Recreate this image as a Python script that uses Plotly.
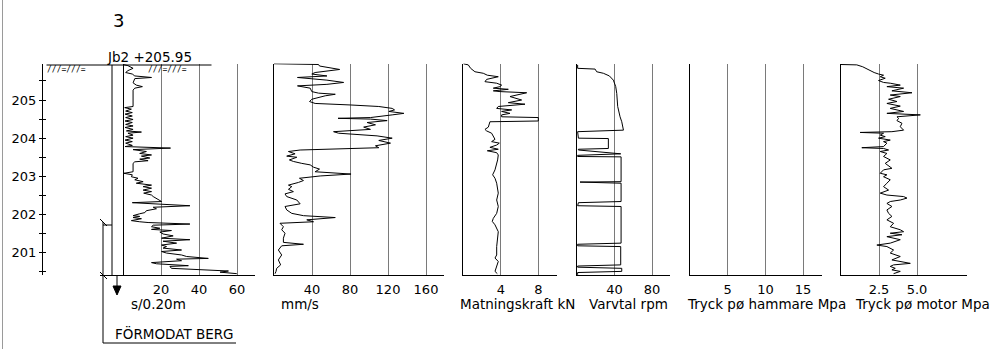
import plotly.graph_objects as go

# ---------------- data ----------------
# Panel 1: sounding resistance, s/0.20m
s02_elev = [205.93, 205.90, 205.83, 205.77, 205.72, 205.68, 205.63, 205.59, 205.56, 205.45,
            205.39, 205.35, 205.31, 205.26, 204.83, 204.80, 204.76, 204.71, 204.67, 204.63,
            204.58, 204.54, 204.49, 204.45, 204.41, 204.36, 204.32, 204.28, 204.23, 204.19,
            204.16, 204.13, 204.08, 204.04, 204.00, 203.95, 203.91, 203.87, 203.81, 203.78,
            203.74, 203.70, 203.65, 203.60, 203.56, 203.53, 203.48, 203.45, 203.41, 203.38,
            203.34, 203.12, 203.08, 203.04, 202.99, 202.95, 202.91, 202.86, 202.82, 202.77,
            202.73, 202.69, 202.64, 202.60, 202.56, 202.51, 202.47, 202.42, 202.38, 202.34,
            202.31, 202.28, 202.23, 202.19, 202.15, 202.10, 202.05, 202.02, 201.97, 201.95,
            201.92, 201.89, 201.84, 201.81, 201.79, 201.75, 201.72, 201.68, 201.64, 201.61,
            201.58, 201.54, 201.49, 201.44, 201.38, 201.34, 201.30, 201.25, 201.20, 201.16,
            201.12, 201.07, 201.03, 200.99, 200.94, 200.90, 200.85, 200.83, 200.79, 200.74,
            200.71, 200.66, 200.64, 200.59, 200.57, 200.55, 200.54, 200.52, 200.49, 200.46, 200.45]
s02_val = [0.0, 2.6, 5.3, 2.6, 1.4, 4.9, 6.2, 15.0, 6.2, 5.3,
           7.0, 10.2, 6.2, 5.3, 5.3, 0.9, 4.4, 1.4, 4.9, 1.1,
           4.9, 1.4, 5.3, 1.1, 4.9, 1.4, 5.3, 1.1, 5.3, 1.8,
           9.7, 2.6, 5.3, 1.4, 5.3, 1.1, 4.9, 1.4, 4.9, 1.1,
           25.0, 5.3, 12.3, 8.8, 15.0, 9.7, 14.1, 8.8, 13.2, 6.2,
           5.3, 5.3, 0.5, 4.9, 4.4, 7.9, 6.2, 10.6, 7.0, 15.0,
           10.6, 15.0, 10.6, 15.0, 10.9, 15.0, 15.9, 17.6, 19.4, 20.3,
           4.9, 19.4, 35.2, 15.9, 17.6, 12.3, 11.5, 8.8, 5.3, 8.8,
           5.3, 9.7, 4.4, 8.8, 13.2, 35.2, 15.9, 15.0, 19.4, 15.0,
           25.5, 19.4, 21.1, 26.4, 20.3, 35.2, 21.1, 28.2, 20.3, 22.9,
           21.1, 30.8, 20.3, 22.9, 30.8, 33.5, 44.9, 28.2, 30.8, 15.0,
           17.6, 34.4, 24.7, 25.5, 32.6, 40.5, 49.3, 55.5, 51.1, 58.1, 59.9]

# Panel 2: penetration rate, mm/s
rate_elev = [205.95, 205.93, 205.89, 205.80, 205.72, 205.68, 205.63, 205.59, 205.52, 205.46,
             205.41, 205.37, 205.31, 205.22, 205.18, 205.15, 205.11, 205.02, 204.96, 204.91,
             204.87, 204.83, 204.78, 204.74, 204.70, 204.65, 204.61, 204.54, 204.52, 204.50,
             204.46, 204.41, 204.35, 204.29, 204.23, 204.17, 204.13, 204.06, 204.00, 203.94,
             203.87, 203.80, 203.75, 203.73, 203.69, 203.65, 203.59, 203.53, 203.50, 203.43,
             203.39, 203.34, 203.30, 203.24, 203.19, 203.12, 203.06, 203.01, 202.95, 202.89,
             202.84, 202.77, 202.73, 202.66, 202.60, 202.54, 202.47, 202.38, 202.28, 202.21,
             202.12, 202.03, 201.97, 201.92, 201.86, 201.81, 201.77, 201.68, 201.60, 201.51,
             201.38, 201.27, 201.22, 201.18, 201.07, 200.94, 200.81, 200.68, 200.59, 200.51, 200.45]
rate_val = [0.0, 46.9, 47.9, 69.1, 43.3, 39.8, 55.7, 24.7, 55.7, 73.3,
            55.7, 24.7, 38.1, 39.8, 46.9, 64.5, 53.9, 39.8, 37.4, 43.3,
            80.3, 110.3, 124.4, 126.9, 120.9, 136.7, 124.4, 101.5, 67.4, 101.5,
            119.1, 98.0, 106.8, 94.4, 101.5, 62.7, 68.0, 108.5, 124.4, 110.3,
            122.6, 106.8, 110.3, 69.8, 27.5, 15.2, 22.2, 13.4, 24.0, 16.2,
            20.4, 29.2, 38.1, 41.6, 47.9, 43.3, 81.1, 48.6, 26.8, 31.0,
            25.7, 15.2, 18.7, 15.2, 20.4, 11.6, 13.4, 24.0, 27.5, 11.6,
            13.4, 18.7, 31.0, 64.5, 34.5, 41.6, 6.3, 9.9, 8.1, 11.6,
            9.9, 9.9, 31.0, 8.1, 4.6, 8.1, 4.6, 7.0, 2.8, 2.1, 1.1]

# Panel 3: feed force (Matningskraft), kN
feed_elev = [205.95, 205.92, 205.83, 205.74, 205.70, 205.65, 205.61, 205.54, 205.48, 205.44,
             205.39, 205.35, 205.31, 205.28, 205.24, 205.22, 205.19, 205.09, 205.00, 204.93,
             204.89, 204.83, 204.78, 204.74, 204.70, 204.65, 204.61, 204.56, 204.54, 204.45,
             204.43, 204.35, 204.29, 204.23, 204.19, 204.13, 204.04, 203.97, 203.91, 203.87,
             203.82, 203.76, 203.71, 203.67, 203.62, 203.56, 203.43, 203.17, 203.04, 202.95,
             202.82, 202.56, 202.38, 202.21, 202.03, 201.90, 201.82, 201.73, 201.55, 201.38,
             201.16, 200.94, 200.86, 200.77, 200.64, 200.51, 200.45]
feed_val = [0.0, 0.53, 0.78, 1.24, 2.13, 2.56, 3.73, 2.49, 2.31, 3.56,
            4.09, 3.91, 3.20, 4.80, 3.20, 3.91, 6.76, 4.98, 6.22, 4.80,
            6.58, 3.73, 3.56, 5.16, 4.09, 4.98, 4.09, 4.09, 8.0, 8.0,
            2.84, 2.77, 2.67, 2.31, 2.49, 3.02, 3.20, 3.38, 3.02, 3.84,
            3.56, 2.84, 3.73, 2.56, 3.56, 3.73, 3.66, 3.38, 3.13, 3.38,
            3.56, 3.73, 3.56, 3.73, 3.56, 3.20, 3.09, 3.38, 3.73, 3.63,
            3.56, 3.56, 3.38, 3.73, 3.56, 3.38, 3.63]

# Panel 4: rotation (Varvtal), rpm
rpm_elev = [205.92, 205.83, 205.81, 205.74, 205.70, 205.63, 205.52, 205.35, 205.17, 204.83,
            204.56, 204.43, 204.21, 204.17, 204.00, 203.99, 203.73, 203.71, 203.69, 203.59,
            203.55, 203.52, 203.51, 202.86, 202.85, 202.82, 202.34, 202.31, 202.23, 202.21,
            201.25, 201.22, 201.18, 201.16, 200.68, 200.65, 200.62, 200.59, 200.51, 200.48, 200.42]
rpm_val = [1.0, 1.0, 19.5, 21.2, 28.3, 34.7, 38.9, 41.4, 42.5, 43.5,
           46.0, 47.8, 49.6, 1.0, 1.8, 33.6, 33.6, 1.8, 1.8, 46.7,
           1.0, 1.0, 47.1, 47.1, 3.5, 47.1, 47.1, 1.8, 1.0, 47.1,
           47.1, 1.0, 1.0, 46.7, 46.7, 1.0, 1.0, 47.8, 47.8, 1.0, 1.0]

# Panel 5: hammer pressure (Tryck på hammare), MPa -- no data recorded
hammer_elev = []
hammer_val = []

# Panel 6: motor pressure (Tryck på motor), MPa
motor_elev = [205.93, 205.92, 205.87, 205.81, 205.76, 205.72, 205.68, 205.65, 205.61, 205.57,
              205.51, 205.46, 205.44, 205.39, 205.35, 205.31, 205.24, 205.19, 205.13, 205.09,
              205.02, 204.96, 204.91, 204.84, 204.78, 204.70, 204.65, 204.61, 204.56, 204.52,
              204.46, 204.39, 204.30, 204.21, 204.17, 204.15, 204.13, 204.08, 204.04, 204.00,
              203.95, 203.91, 203.87, 203.78, 203.75, 203.73, 203.69, 203.65, 203.60, 203.52,
              203.43, 203.34, 203.21, 203.17, 203.08, 203.04, 202.99, 202.91, 202.82, 202.73,
              202.64, 202.56, 202.51, 202.47, 202.43, 202.38, 202.34, 202.29, 202.21, 202.12,
              202.03, 201.95, 201.86, 201.77, 201.68, 201.60, 201.55, 201.51, 201.47, 201.42,
              201.34, 201.25, 201.20, 201.16, 201.07, 200.99, 200.90, 200.81, 200.72, 200.68,
              200.64, 200.59, 200.55, 200.51, 200.45]
motor_val = [0.0, 1.04, 1.43, 1.70, 1.92, 2.18, 2.47, 2.80, 2.58, 2.91,
             2.47, 2.80, 3.24, 3.90, 3.02, 4.12, 3.35, 4.67, 3.24, 3.90,
             3.13, 3.68, 3.02, 3.90, 3.24, 4.12, 3.02, 5.22, 3.68, 3.79,
             3.68, 4.01, 3.90, 4.12, 3.35, 1.26, 2.80, 2.58, 2.91, 2.47,
             3.24, 2.80, 3.02, 2.80, 1.37, 2.80, 3.13, 2.58, 3.02, 2.80,
             3.24, 2.91, 3.35, 2.80, 2.58, 3.02, 2.80, 3.24, 3.02, 2.80,
             3.13, 2.58, 3.02, 4.12, 4.34, 3.90, 3.24, 3.02, 3.35, 3.02,
             3.13, 3.35, 3.02, 3.46, 3.24, 3.90, 4.12, 3.24, 4.01, 3.02,
             3.90, 3.24, 2.36, 3.02, 3.46, 3.24, 3.90, 3.35, 4.56, 3.46,
             3.24, 3.57, 3.35, 3.90, 3.46]

elev_ticks = [200.5, 201, 201.5, 202, 202.5, 203, 203.5, 204, 204.5, 205, 205.5]
elev_ticktext = ["", "201", "", "202", "", "203", "", "204", "", "205", ""]

panel_titles = ["s/0.20m", "mm/s", "Matningskraft kN", "Varvtal rpm",
                "Tryck pø hammare Mpa", "Tryck pø motor Mpa"]
panel_ticks = [[20, 40, 60], [40, 80, 120, 160], [4, 8], [40, 80], [5, 10, 15], [2.5, 5.0]]
panel_ticktext = [["20", "40", "60"], ["40", "80", "120", "160"], ["4", "8"], ["40", "80"],
                  ["5", "10", "15"], ["2.5", "5.0"]]
borehole_label = "Jb2 +205.95"
sheet_number = "3"
rock_label = "FÖRMODAT BERG"

series = [(s02_val, s02_elev), (rate_val, rate_elev), (feed_val, feed_elev),
          (rpm_val, rpm_elev), (hammer_val, hammer_elev), (motor_val, motor_elev)]

# ---------------- layout geometry (pixels) ----------------
W, H = 992, 349
FONT = "DejaVu Sans"
GRID = "#7a7a7a"


def fx(p):
    return p / W


def fy(p):
    return 1 - p / H


PLOT_TOP, PLOT_BOT = 63.5, 275.0
REF_PX, REF_ELEV, PX_PER_M = 100.0, 205.0, 38.17
elev_range = [REF_ELEV - (PLOT_BOT - REF_PX) / PX_PER_M, REF_ELEV + (REF_PX - PLOT_TOP) / PX_PER_M]
ydom = [fy(PLOT_BOT), fy(PLOT_TOP)]

# (left px, right px, zero px, px per unit)
panel_geom = [(100, 255, 123, 38 / 20), (274, 444, 274, 38 / 40), (463.3, 557, 463.3, 37.5 / 4),
              (576.7, 670, 576.7, 37.7 / 40), (690, 822, 690, 37.7 / 5), (841, 967, 841, 38 / 2.5)]

fig = go.Figure()
layout = dict(width=W, height=H, margin=dict(l=0, r=0, t=0, b=0), showlegend=False,
              paper_bgcolor="white", plot_bgcolor="white",
              font=dict(family=FONT, size=13, color="black"))

for i, ((xv, yv), (left, right, zero, ppu)) in enumerate(zip(series, panel_geom)):
    n = i + 1
    xname = "x" if n == 1 else f"x{n}"
    yname = "y" if n == 1 else f"y{n}"
    fig.add_trace(go.Scatter(x=xv, y=yv, mode="lines", xaxis=xname, yaxis=yname,
                             line=dict(color="black", width=1), hoverinfo="skip"))
    xax = dict(domain=[fx(left), fx(right)], range=[(left - zero) / ppu, (right - zero) / ppu],
               anchor=yname, showline=True, linecolor="black", linewidth=1,
               showgrid=True, gridcolor=GRID, gridwidth=1, zeroline=(n == 1),
               zerolinecolor="black", zerolinewidth=1, ticks="",
               tickvals=panel_ticks[i], ticktext=panel_ticktext[i],
               tickfont=dict(family=FONT, size=13, color="black"), ticklabelstandoff=2,
               fixedrange=True)
    layout["xaxis" if n == 1 else f"xaxis{n}"] = xax
    if n > 1:
        layout[f"yaxis{n}"] = dict(domain=ydom, range=elev_range, anchor=xname,
                                   showline=True, linecolor="black", linewidth=1,
                                   ticks="", showticklabels=False, showgrid=False,
                                   zeroline=False, fixedrange=True)

# elevation axis (outside half of the crossing ticks, with labels)
layout["yaxis"] = dict(domain=ydom, range=elev_range, anchor="free", position=fx(42),
                       showline=True, linecolor="black", linewidth=1, showgrid=False,
                       zeroline=False, ticks="outside", ticklen=3, tickcolor="black",
                       tickvals=elev_ticks, ticktext=elev_ticktext,
                       tickfont=dict(family=FONT, size=13, color="black"), fixedrange=True)
# inside half of the crossing ticks
fig.add_trace(go.Scatter(x=[None], y=[None], xaxis="x", yaxis="y7", hoverinfo="skip"))
layout["yaxis7"] = dict(overlaying="y", range=elev_range, anchor="free", position=fx(42),
                        showline=False, showgrid=False, zeroline=False, ticks="inside",
                        ticklen=3, tickcolor="black", tickvals=elev_ticks,
                        showticklabels=False, fixedrange=True)


def hline(x0, x1, y, color="black", width=1):
    return dict(type="line", xref="paper", yref="paper", x0=fx(x0), x1=fx(x1), y0=fy(y), y1=fy(y),
                line=dict(color=color, width=width))


def seg(x0, y0, x1, y1, color="black", width=1):
    return dict(type="line", xref="paper", yref="paper", x0=fx(x0), x1=fx(x1), y0=fy(y0), y1=fy(y1),
                line=dict(color=color, width=width))


shapes = [
    seg(2.5, 0, 2.5, 349, color="#9a9a9a"),          # sheet border
    hline(46.5, 211.5, 65),                          # ground surface
    seg(112, 65, 112, 275),                          # casing, left wall
    seg(103, 222, 103, 343),                         # rock bracket
    hline(103, 112, 225),
    seg(100, 219, 107, 226), seg(100, 272, 107, 279),
    hline(103, 236, 343),                            # underline
    seg(117, 275, 117, 287),                         # stop arrow
    dict(type="path", xref="paper", yref="paper",
         path=f"M {fx(113)} {fy(286)} L {fx(121)} {fy(286)} L {fx(117)} {fy(295)} Z",
         fillcolor="black", line=dict(color="black", width=1)),
]
layout["shapes"] = shapes


def label(text, x, y, size=13, xanchor="center", family=FONT):
    return dict(text=text, x=fx(x), y=fy(y), xref="paper", yref="paper", showarrow=False,
                xanchor=xanchor, yanchor="middle", font=dict(family=family, size=size, color="black"))


title_pos = [(158, "center"), (300, "center"), (458, "left"), (587, "left"), (685, "left"), (853, "left")]
annotations = [label(t, x, 304, size=13.5, xanchor=a) for t, (x, a) in zip(panel_titles, title_pos)]
annotations += [
    label(sheet_number, 118, 21, size=18),
    label(borehole_label, 149, 57, size=13.5),
    label(rock_label, 174, 333, size=13.5),
    label("///=///=", 66, 69, size=8, family="DejaVu Sans Mono"),
    label("///=///=", 167, 69, size=8, family="DejaVu Sans Mono"),
]
layout["annotations"] = annotations

fig.update_layout(**layout)
fig.write_html("out.html", config={"displayModeBar": False},
               post_script="document.body.style.margin='0';document.body.style.padding='0';")
